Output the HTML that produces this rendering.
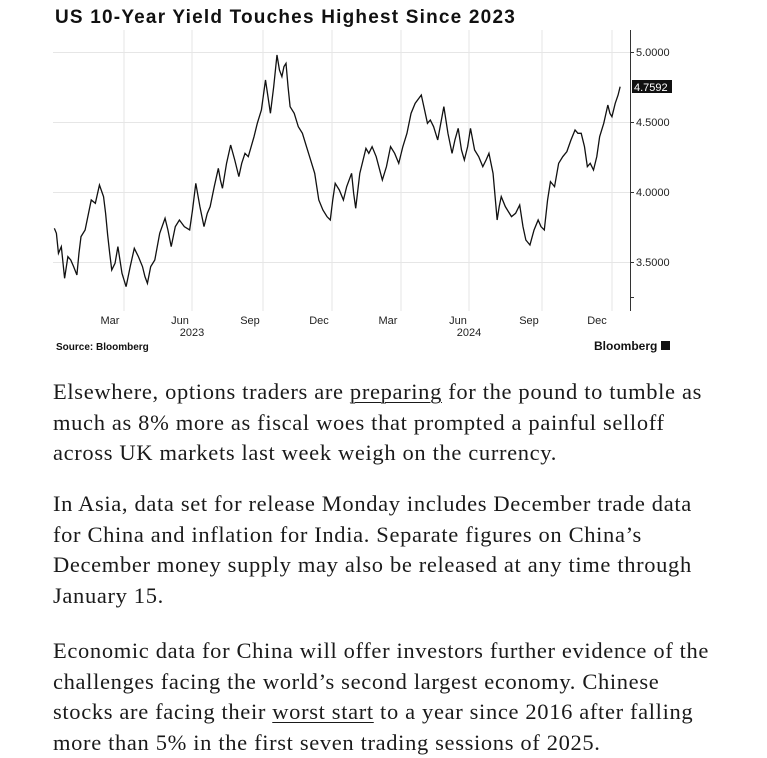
<!DOCTYPE html>
<html><head><meta charset="utf-8"><style>
body{margin:0;background:#fff;width:767px;height:757px;overflow:hidden;position:relative;font-family:"Liberation Sans",sans-serif}
.t{position:absolute;left:55px;top:7px;font-weight:bold;font-size:19px;letter-spacing:1.2px;color:#111}
.p{position:absolute;left:53px;font-family:"Liberation Serif",serif;font-size:22.5px;letter-spacing:0.65px;color:#1a1a1a;white-space:nowrap;line-height:30.5px}
.u{text-decoration:underline;text-decoration-thickness:1px;text-underline-offset:3px}
</style></head><body>
<div class="t">US 10-Year Yield Touches Highest Since 2023</div>
<svg width="767" height="360" style="position:absolute;left:0;top:0" font-family="Liberation Sans,sans-serif">
<g stroke="#e6e6e6" stroke-width="1">
<line x1="53" x2="630" y1="52.5" y2="52.5"/><line x1="53" x2="630" y1="122.5" y2="122.5"/><line x1="53" x2="630" y1="192.5" y2="192.5"/><line x1="53" x2="630" y1="262.5" y2="262.5"/>
<line x1="124" x2="124" y1="30" y2="311"/><line x1="192" x2="192" y1="30" y2="311"/><line x1="263" x2="263" y1="30" y2="311"/><line x1="332" x2="332" y1="30" y2="311"/><line x1="401" x2="401" y1="30" y2="311"/><line x1="469" x2="469" y1="30" y2="311"/><line x1="542" x2="542" y1="30" y2="311"/><line x1="612" x2="612" y1="30" y2="311"/>
</g>
<line x1="630.5" x2="630.5" y1="30" y2="311" stroke="#333"/>
<g stroke="#333"><line x1="630" x2="634" y1="52.5" y2="52.5"/><line x1="630" x2="634" y1="122.5" y2="122.5"/><line x1="630" x2="634" y1="192.5" y2="192.5"/><line x1="630" x2="634" y1="262.5" y2="262.5"/><line x1="630" x2="634" y1="297.5" y2="297.5"/></g>
<g font-size="11" fill="#222"><text x="636" y="56">5.0000</text><text x="636" y="126">4.5000</text><text x="636" y="196">4.0000</text><text x="636" y="266">3.5000</text></g>
<rect x="632" y="80" width="40" height="13" fill="#111"/><text x="634" y="91" font-size="11" fill="#fff">4.7592</text>
<g font-size="11" fill="#222" text-anchor="middle"><text x="110" y="324">Mar</text><text x="180" y="324">Jun</text><text x="192" y="336">2023</text><text x="250" y="324">Sep</text><text x="319" y="324">Dec</text><text x="388" y="324">Mar</text><text x="458" y="324">Jun</text><text x="469" y="336">2024</text><text x="529" y="324">Sep</text><text x="597" y="324">Dec</text></g>
<text x="56" y="350" font-size="10" font-weight="bold" fill="#111">Source: Bloomberg</text>
<text x="594" y="350" font-size="12" font-weight="bold" fill="#111">Bloomberg</text>
<rect x="661" y="341" width="9" height="9" fill="#111"/>
<g transform="translate(40,0) scale(0.41,0.3333)">
<polyline fill="none" stroke="#111" stroke-width="1.3" vector-effect="non-scaling-stroke" points="35,685 40,700 45,760 52,740 60,835 68,770 75,780 82,800 90,825 95,760 100,710 110,690 125,600 135,610 145,555 155,590 160,640 165,705 170,760 175,810 183,790 190,740 200,820 210,860 220,800 230,745 240,770 250,800 256,830 262,850 270,800 280,780 292,700 305,655 312,690 320,740 330,680 340,660 352,680 365,690 372,630 380,550 390,620 400,680 408,640 415,620 425,560 435,505 440,540 445,565 455,490 465,435 475,480 485,530 492,490 500,460 508,470 515,440 522,410 530,370 540,330 550,240 556,290 562,340 570,260 578,165 584,210 590,230 595,200 600,190 605,260 610,320 620,340 630,380 640,400 650,440 660,480 670,520 680,600 690,630 700,650 708,660 714,600 720,550 730,570 740,600 748,560 760,520 765,580 770,625 780,520 795,445 802,460 810,440 820,470 835,540 845,500 855,440 865,460 875,490 885,440 895,400 905,340 915,310 930,285 938,330 945,370 952,360 960,380 970,420 985,320 995,400 1005,460 1012,420 1020,385 1028,450 1035,480 1043,440 1050,385 1060,450 1070,470 1080,500 1088,480 1095,460 1105,520 1115,660 1120,620 1125,590 1135,620 1150,650 1160,640 1170,615 1178,680 1185,720 1195,735 1205,690 1215,660 1222,680 1230,690 1238,600 1245,545 1255,560 1265,490 1275,470 1285,455 1295,420 1305,390 1312,400 1320,400 1328,440 1335,500 1342,490 1350,510 1358,470 1365,410 1375,370 1385,315 1390,340 1395,350 1403,310 1410,285 1415,260"/>
</g>
</svg>
<div class="p" style="top:377px">Elsewhere, options traders are <span class="u">preparing</span> for the pound to tumble as<br>much as 8% more as fiscal woes that prompted a painful selloff<br>across UK markets last week weigh on the currency.</div>
<div class="p" style="top:489px">In Asia, data set for release Monday includes December trade data<br>for China and inflation for India. Separate figures on China’s<br>December money supply may also be released at any time through<br>January 15.</div>
<div class="p" style="top:636px">Economic data for China will offer investors further evidence of the<br>challenges facing the world’s second largest economy. Chinese<br>stocks are facing their <span class="u">worst start</span> to a year since 2016 after falling<br>more than 5% in the first seven trading sessions of 2025.</div>
</body></html>
